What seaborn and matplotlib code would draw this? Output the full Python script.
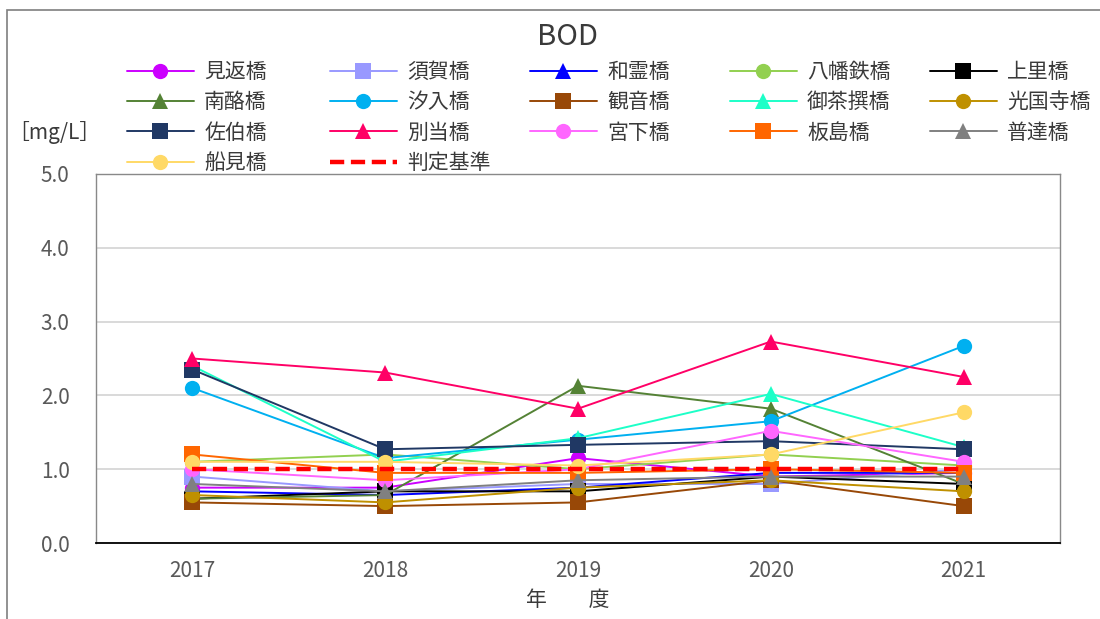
import matplotlib
matplotlib.use("Agg")
import matplotlib.pyplot as plt
import numpy as np
import seaborn as sns
from matplotlib.patches import Rectangle


years = ["2017", "2018", "2019", "2020", "2021"]

stations = [
    "見返橋", "須賀橋", "和霊橋", "八幡鉄橋", "上里橋",
    "南酪橋", "汐入橋", "観音橋", "御茶撰橋", "光国寺橋",
    "佐伯橋", "別当橋", "宮下橋", "板島橋", "普達橋",
    "船見橋",
]

mikaeri = [0.75, 0.75, 1.15, 0.90, 0.95]
suga = [0.90, 0.70, 0.80, 0.80, 1.00]
warei = [0.70, 0.65, 0.75, 0.95, 0.95]
hachiman = [1.10, 1.20, 1.00, 1.20, 1.05]
kamisato = [0.60, 0.70, 0.70, 0.90, 0.80]
nanraku = [0.60, 0.65, 2.13, 1.82, 0.80]
shioiri = [2.10, 1.15, 1.40, 1.65, 2.67]
kannon = [0.55, 0.50, 0.55, 0.85, 0.50]
ochaeri = [2.40, 1.10, 1.42, 2.02, 1.30]
kokokuji = [0.65, 0.55, 0.75, 0.85, 0.70]
saeki = [2.35, 1.27, 1.33, 1.38, 1.27]
betto = [2.50, 2.31, 1.82, 2.73, 2.25]
miyashita = [1.00, 0.85, 1.00, 1.52, 1.10]
itajima = [1.20, 0.95, 0.95, 1.00, 0.95]
futatsu = [0.80, 0.70, 0.85, 0.90, 0.90]
funami = [1.10, 1.10, 1.05, 1.20, 1.77]
kijun = [1.0, 1.0, 1.0, 1.0, 1.0]

series = [
    mikaeri, suga, warei, hachiman, kamisato,
    nanraku, shioiri, kannon, ochaeri, kokokuji,
    saeki, betto, miyashita, itajima, futatsu,
    funami,
]

colors = [
    "#CC00FF", "#9999FF", "#0000FF", "#92D050", "#000000",
    "#548235", "#00B0F0", "#984807", "#1DFFC8", "#BF9000",
    "#203864", "#FF0066", "#FF66FF", "#FF6600", "#808080",
    "#FFD966",
]
markers = ["o", "s", "^"]

sns.set_style("white")
plt.rcParams["font.family"] = ["Noto Sans CJK JP", "DejaVu Sans"]

fig = plt.figure(figsize=(11, 6.19), dpi=100)
ax = fig.add_axes([96 / 1100, 1 - 543 / 619, (1060 - 96) / 1100, (543 - 174) / 619])

x = np.arange(len(years))
for i, (name, vals) in enumerate(zip(stations, series)):
    sns.lineplot(x=x, y=vals, ax=ax, color=colors[i], marker=markers[i % 3],
                 markersize=11, markeredgewidth=0, linewidth=1.4, label=name,
                 legend=False)
sns.lineplot(x=x, y=kijun, ax=ax, color="#FF0000", linewidth=3.2,
             label="判定基準", legend=False)
ax.lines[-1].set_dashes([3.2, 1.5])

ax.set_xlim(-0.5, len(years) - 0.5)
ax.set_ylim(0, 5)
ax.set_yticks(np.arange(0, 5.01, 1.0))
ax.set_yticklabels([f"{v:.1f}" for v in np.arange(0, 5.01, 1.0)])
ax.set_xticks(np.arange(-0.5, len(years), 1.0))
ax.set_xticklabels([])
ax.set_xticks(x, minor=True)
ax.set_xticklabels(years, minor=True)
ax.tick_params(axis="x", which="major", direction="out", length=7, width=1.2, color="black")
ax.tick_params(axis="x", which="minor", length=0, pad=12, labelsize=15, labelcolor="#595959")
ax.tick_params(axis="y", length=0, pad=19, labelsize=15, labelcolor="#595959")
ax.yaxis.grid(True, color="#D9D9D9", linewidth=1.4)
ax.set_axisbelow(True)
for side in ["top", "right", "left"]:
    ax.spines[side].set_color("#898989")
    ax.spines[side].set_linewidth(1.0)
ax.spines["bottom"].set_color("black")
ax.spines["bottom"].set_linewidth(1.3)
ax.set_xlabel("")
ax.set_ylabel("")

# legend, filled row by row in five columns
handles = ax.get_lines()
labels = [h.get_label() for h in handles]
col_x = [127, 330, 530, 730, 930]
for c in range(5):
    idx = list(range(c, len(handles), 5))
    fig.legend([handles[k] for k in idx], [labels[k] for k in idx],
               loc="upper left", bbox_to_anchor=(col_x[c] / 1100, 1 - 61 / 619),
               frameon=False, fontsize=15, handlelength=3.2, handletextpad=0.5,
               labelspacing=0.40, borderpad=0, borderaxespad=0, numpoints=1,
               labelcolor="#3A3A3A")

fig.text(568 / 1100, 1 - 37 / 619, "BOD", ha="center", va="center",
         fontsize=21, color="#3A3A3A")
fig.text(54 / 1100, 1 - 132 / 619, "［mg/L］", ha="center", va="center",
         fontsize=15, color="#3A3A3A")
fig.text(568 / 1100, 1 - 600 / 619, "年　　度", ha="center", va="center",
         fontsize=15, color="#3A3A3A")

fig.patches.append(Rectangle((7 / 1100, -0.01), 1.0, 1 - 10 / 619 + 0.01,
                             transform=fig.transFigure, fill=False,
                             edgecolor="#7F7F7F", linewidth=1.2))

fig.savefig("out.png", dpi=100, facecolor="white")
